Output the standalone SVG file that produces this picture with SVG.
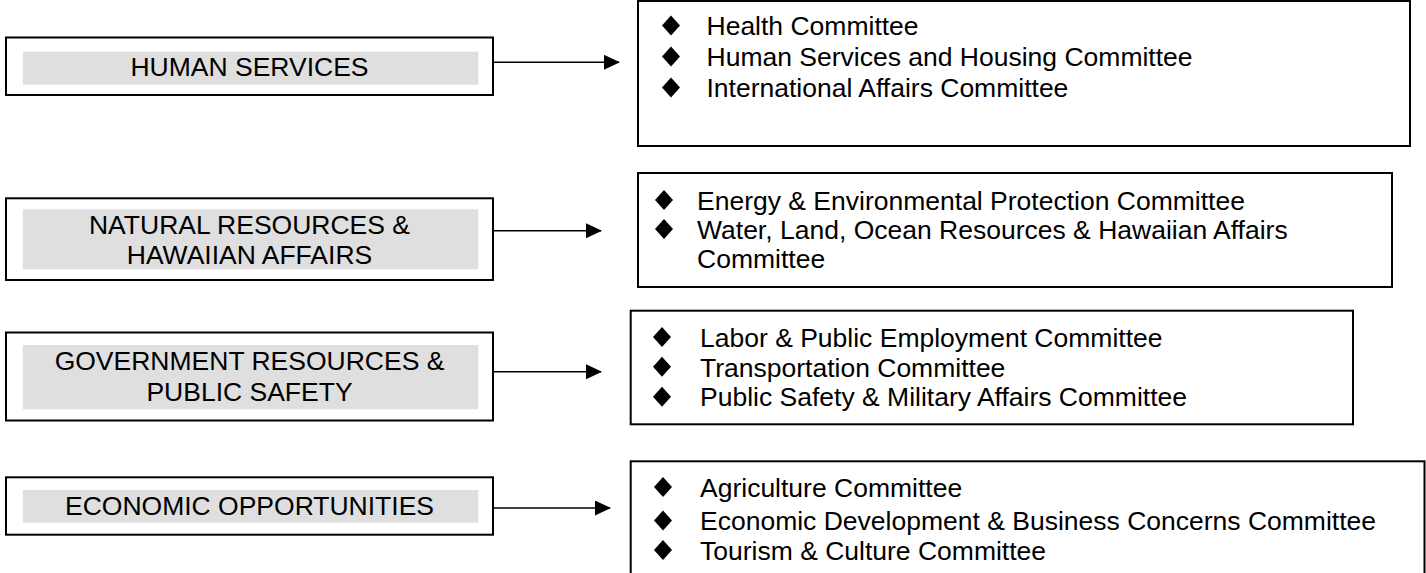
<svg xmlns="http://www.w3.org/2000/svg" width="1426" height="573" viewBox="0 0 1426 573">
<defs>
<style>
.box{fill:#fff;stroke:#000;stroke-width:2}
.band{fill:#dfdfdf;stroke:none}
.lbl{font-family:"Liberation Sans",Arial,sans-serif;font-size:26.5px;fill:#000;text-anchor:middle}
.item{font-family:"Liberation Sans",Arial,sans-serif;font-size:26.5px;fill:#000}
.conn{stroke:#000;stroke-width:1.6;fill:none}
.bul{fill:#000}
</style>
<polygon id="dia" points="0,-10 9,0 0,10 -9,0"/>
<marker id="ah" markerWidth="16" markerHeight="16" refX="15" refY="7.5" orient="auto" markerUnits="userSpaceOnUse">
<polygon points="0,0 16,7.5 0,15" fill="#000"/>
</marker>
</defs>
<rect width="1426" height="573" fill="#fff"/>

<g id="human-services">
<rect class="box" x="6" y="37.5" width="487" height="57.5"/>
<rect class="band" x="22.8" y="51.7" width="455.5" height="33"/>
<text class="lbl" x="249.5" y="76">HUMAN SERVICES</text>
</g>
<g id="natural-resources">
<rect class="box" x="6" y="198.3" width="487" height="81.7"/>
<rect class="band" x="22.8" y="209.3" width="455.5" height="60"/>
<text class="lbl" x="249.5" y="233.5">NATURAL RESOURCES &amp;</text>
<text class="lbl" x="249.5" y="263.5">HAWAIIAN AFFAIRS</text>
</g>
<g id="government-resources">
<rect class="box" x="6" y="332.5" width="487" height="88"/>
<rect class="band" x="22.8" y="345" width="455.5" height="64.3"/>
<text class="lbl" x="249.5" y="370">GOVERNMENT RESOURCES &amp;</text>
<text class="lbl" x="249.5" y="400.5">PUBLIC SAFETY</text>
</g>
<g id="economic-opportunities">
<rect class="box" x="6" y="477.3" width="487" height="57.4"/>
<rect class="band" x="22.8" y="490" width="455.5" height="32.7"/>
<text class="lbl" x="249.5" y="514.5">ECONOMIC OPPORTUNITIES</text>
</g>

<g id="connectors">
<line class="conn" x1="493" y1="62.3" x2="619" y2="62.3" marker-end="url(#ah)"/>
<line class="conn" x1="493" y1="230.7" x2="601" y2="230.7" marker-end="url(#ah)"/>
<line class="conn" x1="493" y1="371.7" x2="601" y2="371.7" marker-end="url(#ah)"/>
<line class="conn" x1="493" y1="508" x2="610" y2="508" marker-end="url(#ah)"/>
</g>

<g id="human-committees">
<rect class="box" x="638" y="1" width="772" height="145"/>
<use href="#dia" class="bul" x="671" y="25.5"/>
<use href="#dia" class="bul" x="671" y="56.5"/>
<use href="#dia" class="bul" x="671" y="87.5"/>
<text class="item" x="706.5" y="35">Health Committee</text>
<text class="item" x="706.5" y="66">Human Services and Housing Committee</text>
<text class="item" x="706.5" y="97">International Affairs Committee</text>
</g>
<g id="natural-committees">
<rect class="box" x="638" y="173" width="754" height="114"/>
<use href="#dia" class="bul" x="664" y="200"/>
<use href="#dia" class="bul" x="664" y="229"/>
<text class="item" x="697" y="209.5">Energy &amp; Environmental Protection Committee</text>
<text class="item" x="697" y="238.5">Water, Land, Ocean Resources &amp; Hawaiian Affairs</text>
<text class="item" x="697" y="268">Committee</text>
</g>
<g id="government-committees">
<rect class="box" x="630.7" y="310.7" width="722.3" height="113.6"/>
<use href="#dia" class="bul" x="662" y="337"/>
<use href="#dia" class="bul" x="662" y="366.7"/>
<use href="#dia" class="bul" x="662" y="396.7"/>
<text class="item" x="700" y="346.5">Labor &amp; Public Employment Committee</text>
<text class="item" x="700" y="376.5">Transportation Committee</text>
<text class="item" x="700" y="406">Public Safety &amp; Military Affairs Committee</text>
</g>
<g id="economic-committees">
<rect class="box" x="630.7" y="461.3" width="793.8" height="130"/>
<use href="#dia" class="bul" x="663" y="487"/>
<use href="#dia" class="bul" x="663" y="520.5"/>
<use href="#dia" class="bul" x="663" y="550"/>
<text class="item" x="700" y="496.5">Agriculture Committee</text>
<text class="item" x="700" y="530">Economic Development &amp; Business Concerns Committee</text>
<text class="item" x="700" y="559.5">Tourism &amp; Culture Committee</text>
</g>
</svg>
